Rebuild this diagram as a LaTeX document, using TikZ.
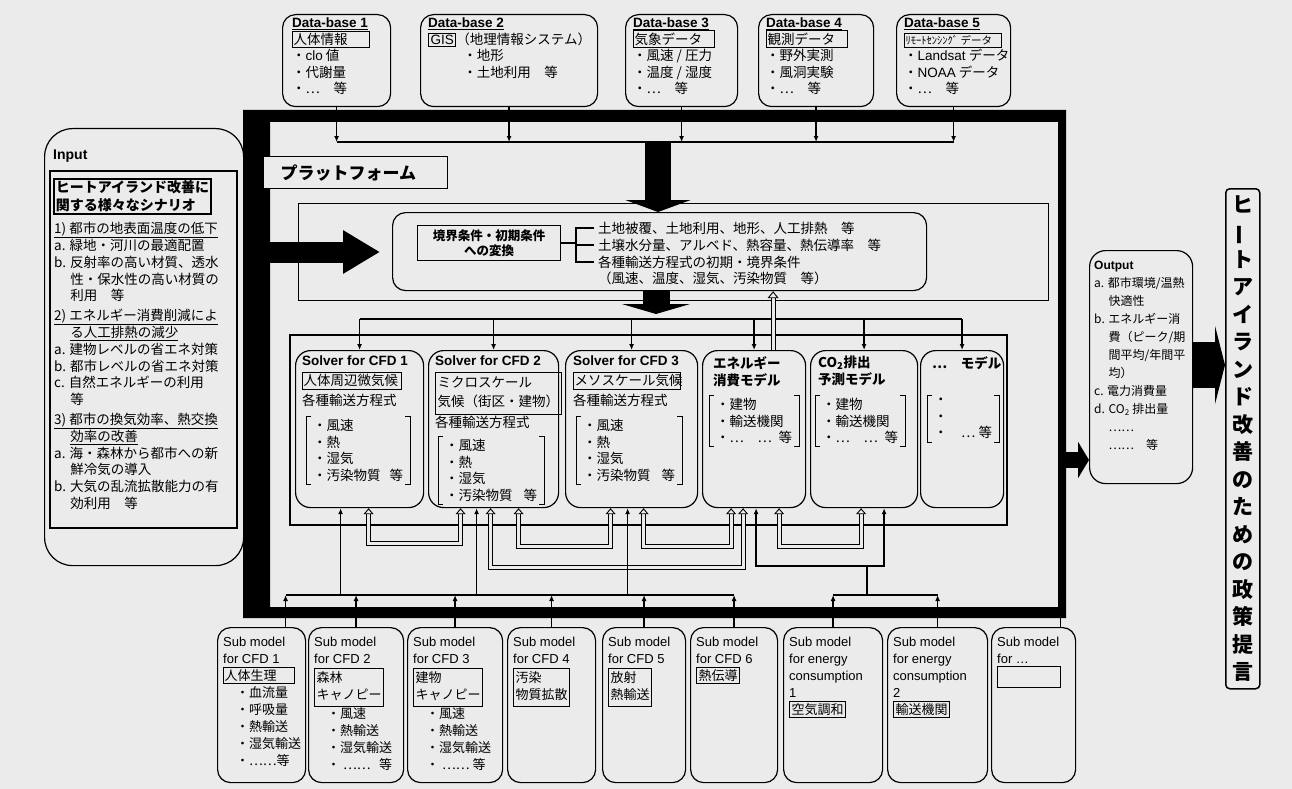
\documentclass[tikz,border=0pt]{standalone}
\usepackage{fontspec}
\setmainfont{Noto Sans CJK JP}
\newfontfamily\lat{Liberation Sans}
\usetikzlibrary{arrows.meta}
\definecolor{paper}{gray}{0.92}
\setlength{\fboxsep}{1.5pt}
\setlength{\fboxrule}{1pt}
\newcommand{\la}[1]{{\lat #1}}
\newcommand{\lb}[1]{{\lat\bfseries #1}}
\newcommand{\lbl}[2]{\framebox[#1][l]{#2}}
\newcommand{\lblm}[1]{\fbox{\begin{tabular}[b]{@{}l@{}}#1\end{tabular}}}
\newcommand{\rt}{\hspace{0pt plus 1fill}}
\newcommand{\brk}[1]{%
  \draw[brk] ([xshift=5pt]#1.north west) -- (#1.north west) -- (#1.south west) -- ([xshift=5pt]#1.south west);
  \draw[brk] ([xshift=-5pt]#1.north east) -- (#1.north east) -- (#1.south east) -- ([xshift=-5pt]#1.south east);}
\tikzset{
  rbox/.style={draw, line width=1.2pt, rounded corners=13pt, anchor=north west, inner sep=0pt},
  txt/.style={inner sep=0pt, anchor=north west, align=left, font=\fontsize{13.5}{16.5}\selectfont},
  lst/.style={txt, inner xsep=7pt, inner ysep=3pt},
  brk/.style={line width=1pt},
  bus/.style={line width=1.3pt},
  toarr/.style={bus, -{Latex[length=6pt, width=5pt]}},
  uparr/.style={bus, -{Latex[length=6pt, width=5pt]}},
  twoarr/.style={bus, {Latex[length=6pt, width=5pt]}-{Latex[length=6pt, width=5pt]}},
  hollow/.style={double=paper, double distance=3pt, line width=0.9pt,
    {Triangle[open, length=6pt, width=10pt]}-{Triangle[open, length=6pt, width=10pt]}},
  hollowup/.style={double=paper, double distance=3pt, line width=0.9pt, -{Triangle[open, length=7pt, width=11pt]}},
  fat/.style={line width=#1}
}
\begin{document}
\begin{tikzpicture}[x=1pt, y=-1pt]
\useasboundingbox (0,0) rectangle (1292,789);
\fill[paper] (0,0) rectangle (1292,789);
% platform frame
\fill[even odd rule] (243,110) rectangle (1066,618) (270,122) rectangle (1058,607);
\node[draw, line width=1.2pt, fill=paper, anchor=north west, minimum height=32, inner xsep=17pt,
  text width=150pt, font=\bfseries\fontsize{17}{20}\selectfont] (pf) at (263,156) {プラットフォーム};

% data bases
\node[rbox, minimum width=108, minimum height=92] (db1) at (282,14) {};
\node[rbox, minimum width=177, minimum height=92] (db2) at (420,14) {};
\node[rbox, minimum width=112, minimum height=92] (db3) at (625,14) {};
\node[rbox, minimum width=115, minimum height=92] (db4) at (758,14) {};
\node[rbox, minimum width=114, minimum height=92] (db5) at (896,14) {};
\node[txt] (db1t) at (292,18) {\lb{\underline{Data-base 1}}\\\lbl{78pt}{人体情報}\\・\la{clo} 値\\・代謝量\\・…　等};
\node[txt] (db2t) at (428,18) {\lb{\underline{Data-base 2}}\\\fbox{\la{GIS}}（地理情報システム）\\\hspace*{2.6em}・地形\\\hspace*{2.6em}・土地利用　等};
\node[txt] (db3t) at (633,18) {\lb{\underline{Data-base 3}}\\\lbl{82pt}{気象データ}\\・風速 / 圧力\\・温度 / 湿度\\・…　等};
\node[txt] (db4t) at (766,18) {\lb{\underline{Data-base 4}}\\\lbl{82pt}{観測データ}\\・野外実測\\・風洞実験\\・…　等};
\node[txt] (db5t) at (904,18) {\lb{\underline{Data-base 5}}\\\lbl{98pt}{\fontsize{10.5}{12}\selectfont ﾘﾓｰﾄｾﾝｼﾝｸﾞ データ}\\・\la{Landsat} データ\\・\la{NOAA} データ\\・…　等};
\coordinate (tbus) at (0,142);
\foreach \d in {db1,db2,db3,db4,db5}
  \draw[toarr] (\d.south) -- (\d.south |- tbus);
\draw[bus] (db1.south |- tbus) -- (db5.south |- tbus);

% input
\node[draw, line width=1.2pt, rounded corners=28pt, anchor=north west, minimum width=199, minimum height=437] (inp) at (44,128) {};
\node[draw, line width=1.6pt, anchor=north west, minimum width=187, minimum height=357] (inpi) at (49,170) {};
\node[txt, font=\lat\bfseries\fontsize{14}{16}\selectfont] (inpt) at (53,150) {Input};
\node[draw, line width=1.6pt, anchor=north west, align=left, inner sep=2pt, font=\bfseries\fontsize{14}{18}\selectfont] (scn) at (53,178) {ヒートアイランド改善に\\関する様々なシナリオ};
\node[txt, font=\fontsize{13.5}{16.8}\selectfont] (inl) at (54,222) {\underline{1) 都市の地表面温度の低下}\\
a. 緑地・河川の最適配置\\
b. 反射率の高い材質、透水\\
\hspace*{1.2em}性・保水性の高い材質の\\
\hspace*{1.2em}利用　等\\[3pt]
\underline{2) エネルギー消費削減によ}\\
\hspace*{1.2em}\underline{る人工排熱の減少}\\
a. 建物レベルの省エネ対策\\
b. 都市レベルの省エネ対策\\
c. 自然エネルギーの利用\\
\hspace*{1.2em}等\\[3pt]
\underline{3) 都市の換気効率、熱交換}\\
\hspace*{1.2em}\underline{効率の改善}\\
a. 海・森林から都市への新\\
\hspace*{1.2em}鮮冷気の導入\\
b. 大気の乱流拡散能力の有\\
\hspace*{1.2em}効利用　等};

% boundary conditions
\node[draw, line width=1.2pt, anchor=north west, minimum width=750, minimum height=97] (bndf) at (298,203) {};
\node[rbox, minimum width=534, minimum height=78] (bnd) at (392,212) {};
\node[draw, line width=1.2pt, anchor=north west, align=center, minimum width=143, minimum height=35, inner sep=1pt,
  font=\bfseries\fontsize{12.5}{15}\selectfont] (conv) at (417,225) {境界条件・初期条件\\への変換};
\node[txt, anchor=west] (bc1) at (598,228) {土地被覆、土地利用、地形、人工排熱　等};
\node[txt, anchor=west] (bc2) at (598,245) {土壌水分量、アルベド、熱容量、熱伝導率　等};
\node[txt, anchor=west] (bc3) at (598,262) {各種輸送方程式の初期・境界条件};
\node[txt, anchor=west] (bc4) at (598,278) {（風速、温度、湿気、汚染物質　等）};
\coordinate (bk) at (576,0);
\draw[bus] (conv.east) -- (conv.east -| bk);
\draw[bus] ([xshift=-4pt]bc1.west) -| (bk |- conv.east);
\draw[bus] ([xshift=-4pt]bc3.west) -| (bk |- conv.east);
\draw[bus] ([xshift=-4pt]bc2.west) -- (bk |- bc2.west);

% fat arrows
\coordinate (la) at (270,252);
\coordinate (lb) at (380,252);
\draw[fat=21pt, -{Triangle[length=37pt, width=41pt]}] (la) -- (lb);
\coordinate (tf) at (658,142);
\draw[fat=26pt, -{Triangle[length=12pt, width=65pt]}] (tf) -- (tf |- bnd.north);
\coordinate (sf) at (656,290);
\coordinate (sfe) at (656,314);
\draw[fat=27pt, -{Triangle[length=10pt, width=68pt]}] (sf) -- (sfe);

% solvers
\draw[line width=2.5pt] (290,335) rectangle (1007,525);
\coordinate (sbus) at (0,319);
\node[rbox, rounded corners=15pt, minimum width=128, minimum height=157] (s1) at (295,350) {};
\node[rbox, rounded corners=15pt, minimum width=130, minimum height=157] (s2) at (428,350) {};
\node[rbox, rounded corners=15pt, minimum width=132, minimum height=157] (s3) at (565,350) {};
\node[rbox, rounded corners=15pt, minimum width=103, minimum height=157] (en) at (702,350) {};
\node[rbox, rounded corners=15pt, minimum width=107, minimum height=157] (co) at (810,350) {};
\node[rbox, rounded corners=15pt, minimum width=83, minimum height=157] (ot) at (920,350) {};
\draw[bus] (s1.north |- sbus) -- (ot.north |- sbus);
\foreach \s in {s1,s2,s3,en,co,ot}
  \draw[toarr] (\s.north |- sbus) -- (\s.north);

\node[txt, font=\fontsize{13.5}{20}\selectfont] (s1t) at (302,356) {\lb{Solver for CFD 1}\\\lbl{100pt}{人体周辺微気候}\\各種輸送方程式};
\node[lst, text width=90pt] (s1l) at (306,416) {・風速\\・熱\\・湿気\\・汚染物質\rt 等};
\brk{s1l}
\node[txt, font=\fontsize{13.5}{19}\selectfont] (s2t) at (435,356) {\lb{Solver for CFD 2}\\[5pt]\lblm{ミクロスケール\\気候（街区・建物）}\\各種輸送方程式};
\node[lst, text width=92pt] (s2l) at (438,436) {・風速\\・熱\\・湿気\\・汚染物質\rt 等};
\brk{s2l}
\node[txt, font=\fontsize{13.5}{20}\selectfont] (s3t) at (573,356) {\lb{Solver for CFD 3}\\\lbl{108pt}{メソスケール気候}\\各種輸送方程式};
\node[lst, text width=92pt] (s3l) at (576,416) {・風速\\・熱\\・湿気\\・汚染物質\rt 等};
\brk{s3l}
\node[txt, font=\bfseries\fontsize{13.5}{17}\selectfont] (ent) at (713,356) {エネルギー\\消費モデル};
\node[lst, text width=76pt] (enl) at (709,395) {・建物\\・輸送機関\\・…　…\rt 等};
\brk{enl}
\node[txt, font=\bfseries\fontsize{13.5}{17}\selectfont] (cot) at (818,356) {CO\textsubscript{2}排出\\予測モデル};
\node[lst, text width=76pt] (col) at (815,395) {・建物\\・輸送機関\\・…　…\rt 等};
\brk{col}
\node[txt, font=\bfseries\fontsize{13.5}{17}\selectfont] (ott) at (932,356) {…　モデル};
\node[lst, text width=58pt] (otl) at (927,395) {・\\・\\・　…\rt 等};
\brk{otl}

% energy model back to boundary conditions
\coordinate (hv) at ([xshift=19pt]en.north);
\draw[hollowup] (hv) -- (hv |- bnd.south);

% links between solvers
\coordinate (k1) at ([xshift=-19pt]s1.south);
\coordinate (h1a) at ([xshift=9pt]s1.south);
\coordinate (h1b) at ([xshift=-33pt]s2.south);
\coordinate (k2) at ([xshift=-17pt]s2.south);
\coordinate (h3a) at ([xshift=-3pt]s2.south);
\coordinate (h2a) at ([xshift=25pt]s2.south);
\coordinate (h2b) at ([xshift=-21pt]s3.south);
\coordinate (k3) at ([xshift=-4pt]s3.south);
\coordinate (h4a) at ([xshift=12pt]s3.south);
\coordinate (h4b) at ([xshift=-23pt]en.south);
\coordinate (h3b) at ([xshift=-11pt]en.south);
\coordinate (k4) at ([xshift=2pt]en.south);
\coordinate (h5a) at ([xshift=25pt]en.south);
\coordinate (h5b) at ([xshift=-3pt]co.south);
\coordinate (k5) at ([xshift=20pt]co.south);
\draw[hollow] (h1a) -- ++(0,35) -| (h1b);
\draw[hollow] (h2a) -- ++(0,38) -| (h2b);
\draw[hollow] (h3a) -- ++(0,59) -| (h3b);
\draw[hollow] (h4a) -- ++(0,38) -| (h4b);
\draw[hollow] (h5a) -- ++(0,38) -| (h5b);

% sub models
\coordinate (lbus) at (0,595);
\coordinate (kk) at (867,566);
\draw[uparr] (k1 |- lbus) -- (k1);
\draw[uparr] (k2 |- lbus) -- (k2);
\draw[uparr] (k3 |- lbus) -- (k3);
\draw[twoarr] (k4) |- (kk) -| (k5);
\draw[bus] (kk) -- (kk |- lbus);

\node[rbox, minimum width=88, minimum height=155] (m1) at (217,627) {};
\node[rbox, minimum width=95, minimum height=155] (m2) at (308,627) {};
\node[rbox, minimum width=95, minimum height=155] (m3) at (407,627) {};
\node[rbox, minimum width=88, minimum height=155] (m4) at (507,627) {};
\node[rbox, minimum width=83, minimum height=155] (m5) at (602,627) {};
\node[rbox, minimum width=87, minimum height=155] (m6) at (690,627) {};
\node[rbox, minimum width=99, minimum height=155] (m7) at (783,627) {};
\node[rbox, minimum width=100, minimum height=155] (m8) at (887,627) {};
\node[rbox, minimum width=84, minimum height=155] (m9) at (991,627) {};
\coordinate (m1a) at ([xshift=24pt]m1.north);
\draw[uparr] (m1a) -- (m1a |- lbus);
\foreach \m in {m2,m3,m4,m5,m6,m7,m8}
  \draw[uparr] (\m.north) -- (\m.north |- lbus);
\draw[bus] (m1a |- lbus) -- (m6.north |- lbus);
\draw[bus] (m7.north |- lbus) -- (m8.north |- lbus);
\coordinate (m9a) at ([xshift=-16pt]m9.north east);
\draw[uparr] (m9a) -- ++(0,-35);

\node[txt, font=\fontsize{13}{17}\selectfont] (m1t) at (223,637) {\la{Sub model}\\\la{for CFD 1}\\\lbl{72pt}{人体生理}\\\hspace*{1em}・血流量\\\hspace*{1em}・呼吸量\\\hspace*{1em}・熱輸送\\\hspace*{1em}・湿気輸送\\\hspace*{1em}・……等};
\node[txt, font=\fontsize{13}{17}\selectfont] (m2t) at (314,637) {\la{Sub model}\\\la{for CFD 2}\\[3pt]\lblm{森林\\キャノピー}\\\hspace*{1em}・風速\\\hspace*{1em}・熱輸送\\\hspace*{1em}・湿気輸送\\\hspace*{1em}・ ……\rt 等};
\node[txt, font=\fontsize{13}{17}\selectfont] (m3t) at (413,637) {\la{Sub model}\\\la{for CFD 3}\\[3pt]\lblm{建物\\キャノピー}\\\hspace*{1em}・風速\\\hspace*{1em}・熱輸送\\\hspace*{1em}・湿気輸送\\\hspace*{1em}・ …… 等};
\node[txt, font=\fontsize{13}{17}\selectfont] (m4t) at (513,637) {\la{Sub model}\\\la{for CFD 4}\\[3pt]\lblm{汚染\\物質拡散}};
\node[txt, font=\fontsize{13}{17}\selectfont] (m5t) at (608,637) {\la{Sub model}\\\la{for CFD 5}\\[3pt]\lblm{放射\\熱輸送}};
\node[txt, font=\fontsize{13}{17}\selectfont] (m6t) at (696,637) {\la{Sub model}\\\la{for CFD 6}\\\fbox{熱伝導}};
\node[txt, font=\fontsize{13}{17}\selectfont] (m7t) at (789,637) {\la{Sub model}\\\la{for energy}\\\la{consumption}\\\la{1}\\\fbox{空気調和}};
\node[txt, font=\fontsize{13}{17}\selectfont] (m8t) at (893,637) {\la{Sub model}\\\la{for energy}\\\la{consumption}\\\la{2}\\\fbox{輸送機関}};
\node[txt, font=\fontsize{13}{17}\selectfont] (m9t) at (997,637) {\la{Sub model}\\\la{for …}\\\framebox[64pt]{\strut}};

% output and proposal
\node[rbox, rounded corners=16pt, minimum width=103, minimum height=233] (out) at (1089,250) {};
\node[txt, font=\fontsize{12}{18}\selectfont] (outt) at (1094,261) {\lb{Output}\\a. 都市環境/温熱\\\hspace*{1.2em}快適性\\b. エネルギー消\\\hspace*{1.2em}費（ピーク/期\\\hspace*{1.2em}間平均/年間平\\\hspace*{1.2em}均）\\c. 電力消費量\\d. CO\textsubscript{2} 排出量\\\hspace*{1.2em}……\\\hspace*{1.2em}……　等};
\node[draw, line width=1.5pt, rounded corners=4pt, anchor=north west, minimum width=34, minimum height=500, inner sep=0pt] (pol) at (1225,188) {};
\node[inner sep=0pt, align=center, font=\bfseries\fontsize{21}{27.5}\selectfont] (polt) at (pol.center) {ヒ\\\rotatebox[origin=c]{90}{ー}\\ト\\ア\\イ\\ラ\\ン\\ド\\改\\善\\の\\た\\め\\の\\政\\策\\提\\言};
\coordinate (oa) at (1066,460);
\draw[fat=16pt, -{Triangle[length=11pt, width=36pt]}] (oa) -- (oa -| out.west);
\coordinate (pa) at (1192,365);
\draw[fat=46pt, -{Triangle[length=10pt, width=78pt]}] (pa) -- (pa -| pol.west);
\end{tikzpicture}
\end{document}
